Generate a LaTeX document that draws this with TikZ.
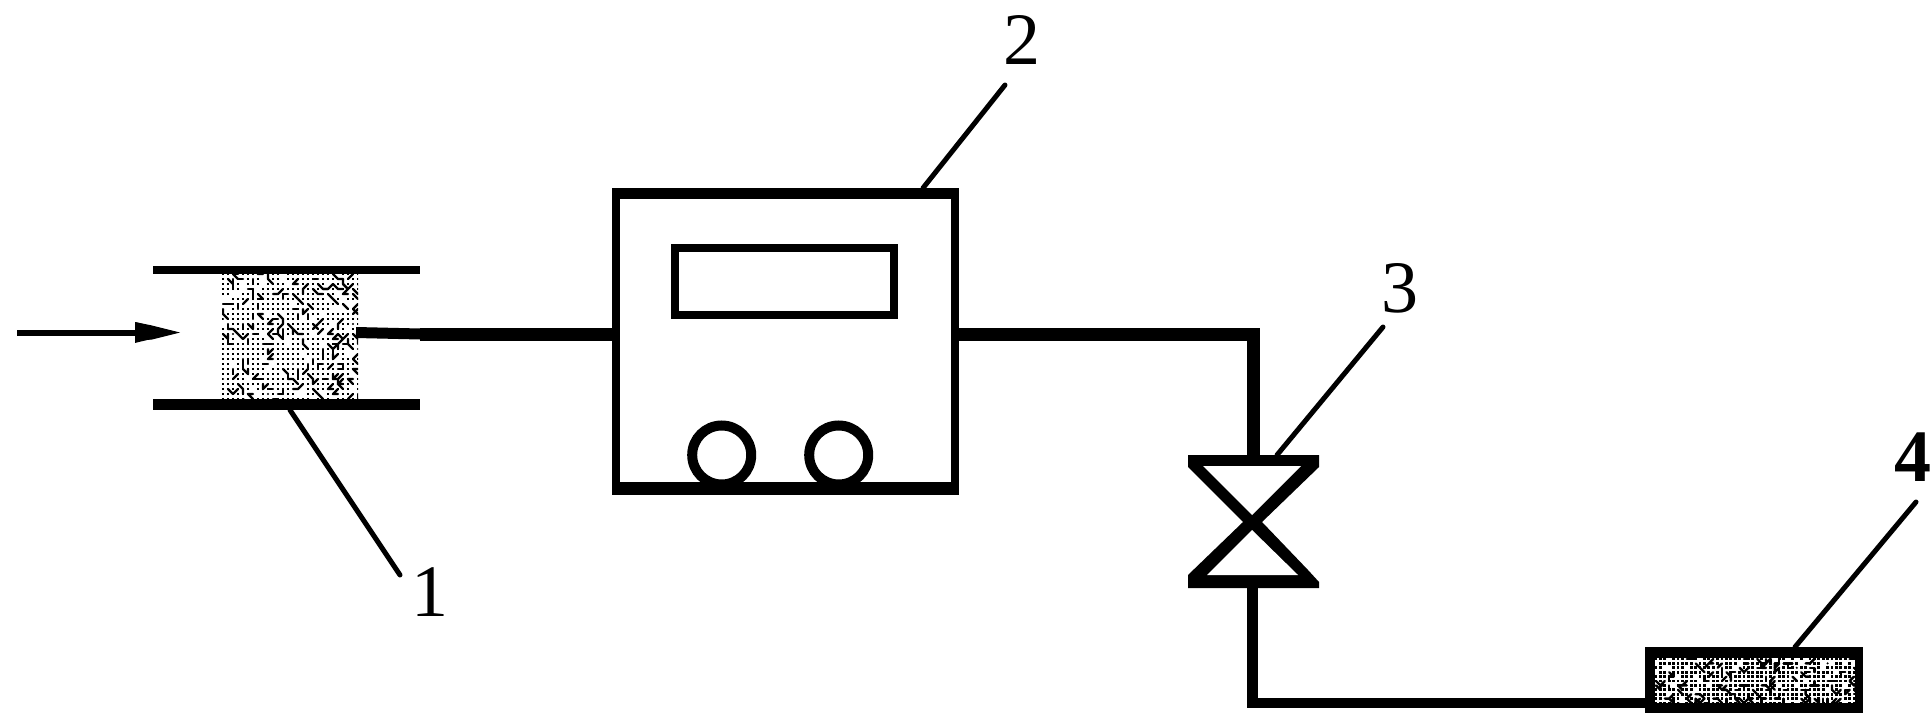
\documentclass[tikz,border=0pt]{standalone}
\usepackage{fontspec}
\setmainfont{Liberation Serif}
\usetikzlibrary{arrows.meta}
\newcommand\speckle[8]{% x0,y0,nx,ny,step,seed,clipw,cliph
  \begin{scope}
  \clip (#1,#2) rectangle ++(#7,#8);
  \pgfmathsetseed{#6}
  \foreach \i in {0,...,#3}{
    \foreach \j in {0,...,#4}{
      \pgfmathsetmacro\xx{#1+\i*#5+1}
      \pgfmathsetmacro\yy{#2+\j*#5+1}
      \pgfmathrandominteger\kk{0}{15}
      \ifnum\kk<3
        \pgfmathrandominteger\aa{-1}{1}
        \pgfmathrandominteger\bb{0}{1}
        \pgfmathrandominteger\cc{0}{1}
        \pgfmathrandominteger\dd{-1}{1}
        \draw[squig] (\xx,\yy) -- ++(\aa*#5,\bb*#5) -- ++(\cc*#5,\dd*#5);
      \else
        \ifnum\kk<14
          \fill (\xx-1.4,\yy-1.4) rectangle (\xx+1.4,\yy+1.4);
        \fi
      \fi
    }
  }
  \end{scope}
}
\tikzset{
  lw/.style={line width=#1*0.5pt},
  block/.style 2 args={shape=rectangle,minimum width=#1*0.5pt,minimum height=#2*0.5pt,inner sep=0pt,outer sep=0pt},
  squig/.style={line width=1.2pt,line cap=round,line join=round},
  pipe/.style={lw=13,line cap=butt,line join=miter},
  leader/.style={lw=5,line cap=round},
  tag/.style={inner sep=0pt,outer sep=0pt,font=\fontsize{37}{37}\selectfont},
  boldtag/.style={tag,font=\fontsize{37}{37}\selectfont\bfseries},
}
\begin{document}
\begin{tikzpicture}[x=0.5pt,y=-0.5pt]
\useasboundingbox[fill=white] (0,0) rectangle (1932,722);

% inlet arrow
\coordinate (flowstart) at (17,332.5);
\coordinate (flowend) at (180,332.5);
\draw[lw=6,-{Triangle[length=22.5pt,width=9.5pt]}] (flowstart) -- (flowend);
\fill (135,322) -- (152,325.5) -- (180,332.5) -- (152,339.5) -- (135,341) -- cycle;

% filter packing and plates
\node[block={136}{127}] (packing) at (290,336.5) {};
\speckle{222}{273}{27}{25}{5}{41}{136}{127}
\node[block={267}{8},fill=black] (topplate) at (286.5,270) {};
\node[block={267}{11},fill=black] (botplate) at (286.5,404.5) {};

% instrument box
\node[block={347}{307},fill=black] (box2) at (785.5,341.5) {};
\node[block={331}{283},fill=white] (box2in) at (785.5,340.5) {};
\node[block={219}{67},draw,lw=8] (display) at (784.5,281.5) {};
\node[draw,circle,lw=10,fill=white,inner sep=0pt,outer sep=0pt,minimum size=29.5pt] (knob1) at (721.7,455) {};
\node[draw,circle,lw=10,fill=white,inner sep=0pt,outer sep=0pt,minimum size=29.5pt] (knob2) at (838.7,455) {};
\fill (612,482) rectangle (959,494);

% valve
\node[block={131}{133}] (valve) at (1253.5,521.5) {};
\fill (1188,455) -- (1319,455) -- (1319,467) -- (1262,522) -- (1308,570) -- (1319,582) -- (1319,588)
  -- (1188,588) -- (1188,575) -- (1243,522) -- (1188,467) -- cycle;
\fill[white] (1203,466) -- (1301,466) -- (1252,515) -- cycle;
\fill[white] (1207,575) -- (1298,575) -- (1252,530) -- cycle;

% sample tube 4
\node[block={218}{66},fill=black] (box4) at (1754,680) {};
\node[block={200}{45},fill=white] (box4in) at (1755,680.5) {};
\speckle{1655}{658}{46}{11}{4.4}{17}{200}{45}

% pipes
\coordinate (outlet) at (420,334);
\coordinate (packout) at (356,332.5);
\coordinate (stem) at (1252.5,588);
\coordinate (feed) at (1645,703);
\draw[lw=11] (packout) -- (outlet);
\draw[pipe] (outlet) -- (box2.west |- outlet);
\draw[pipe] (box2.east |- outlet) -| (valve.north);
\draw[lw=10.5,line join=miter] (stem) |- (feed);

% labels and leaders
\node[tag] (lab1) at (430,592) {1};
\node[tag] (lab2) at (1022,40) {2};
\node[tag] (lab3) at (1400,288) {3};
\node[boldtag] (lab4) at (1913,457) {4};
\coordinate (lead1a) at (290,410);
\coordinate (lead1b) at (400,575);
\coordinate (lead2a) at (923,188);
\coordinate (lead2b) at (1005,85);
\coordinate (lead3a) at (1277,455);
\coordinate (lead3b) at (1383,327);
\coordinate (lead4a) at (1795,647);
\coordinate (lead4b) at (1916,502);
\draw[leader] (lead1a) -- (lead1b);
\draw[leader] (lead2a) -- (lead2b);
\draw[leader] (lead3a) -- (lead3b);
\draw[leader] (lead4a) -- (lead4b);
\end{tikzpicture}
\end{document}
